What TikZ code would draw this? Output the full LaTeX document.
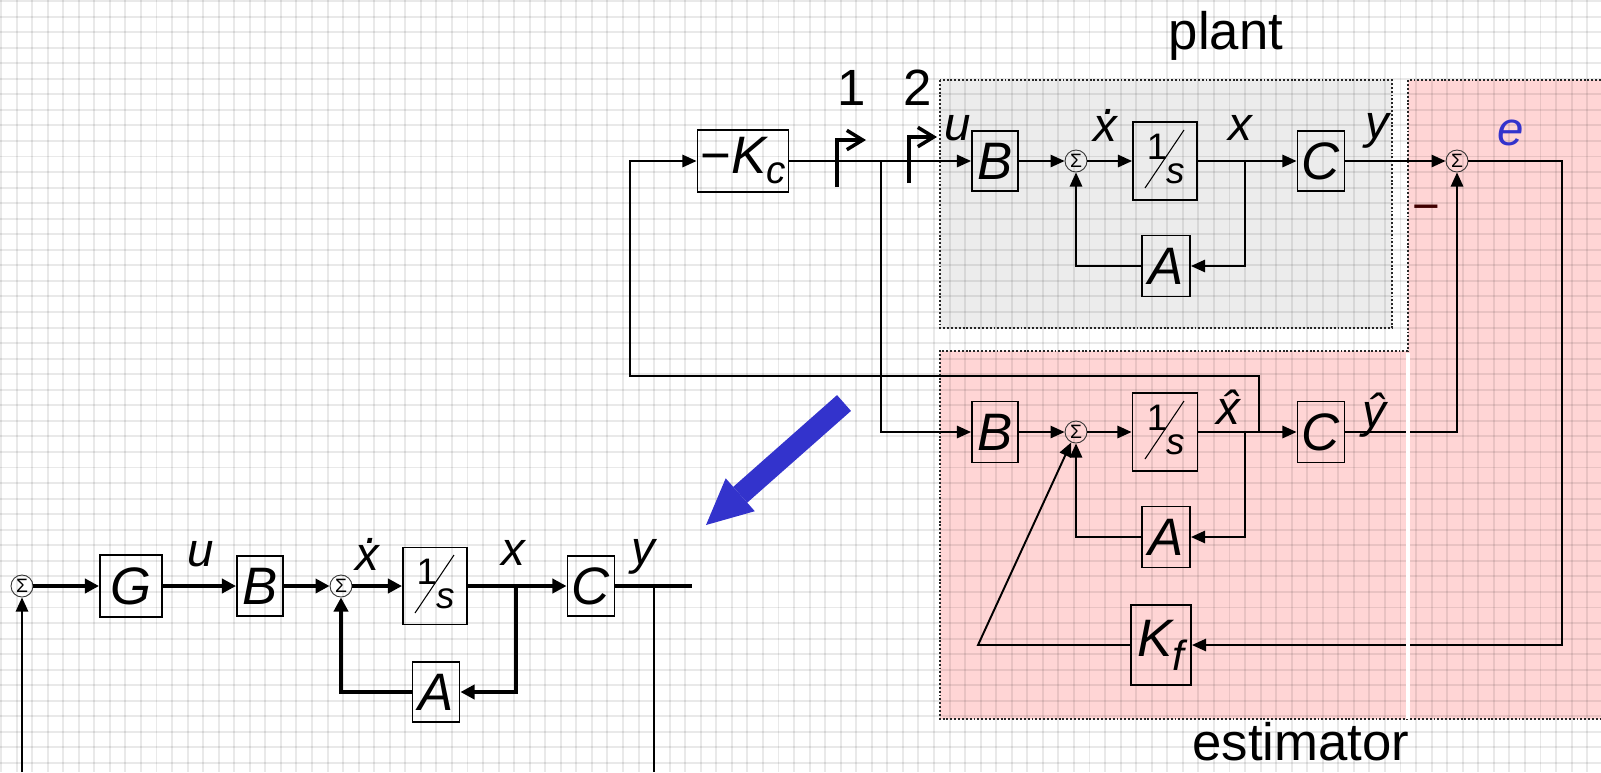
\documentclass[tikz,border=0pt]{standalone}
\usepackage{fontspec}
\setmainfont{Liberation Sans}
\usetikzlibrary{arrows.meta,positioning}

\newlength{\px}
\setlength{\px}{0.02cm}

\definecolor{plantgray}{RGB}{236,236,236}
\definecolor{estpink}{RGB}{255,213,213}
\definecolor{bigblue}{RGB}{51,51,204}
\definecolor{darkerr}{RGB}{64,0,0}

\newcommand{\dotx}{\ooalign{x\cr\hidewidth\kern0.2em\raisebox{0.58em}{.}\hidewidth\cr}}
\newcommand{\hatof}[1]{\ooalign{#1\cr\hidewidth\kern0.12em\symbol{"02C6}\hidewidth\cr}}

\tikzset{
  blk/.style={draw, line width=1.1pt, inner sep=0pt, font=\fontsize{30}{34}\selectfont\itshape},
  sumnode/.style={draw=black!80, circle, line width=0.5pt, minimum size=22\px, inner sep=0pt, font=\fontsize{11}{11}\selectfont},
  wire/.style={line width=1.1pt},
  sig/.style={wire, -{Triangle[length=8pt,width=7pt]}},
  thickwire/.style={line width=2pt},
  thicksig/.style={thickwire, -{Triangle[length=8pt,width=8pt]}},
  lbl/.style={font=\fontsize{27}{30}\selectfont\itshape, inner sep=0pt},
  numlbl/.style={font=\fontsize{29}{32}\selectfont, inner sep=0pt},
  regionlbl/.style={font=\fontsize{30}{33}\selectfont, inner sep=0pt},
  switchpath/.style={line width=2pt, -{Straight Barb[length=9pt,width=11pt]}},
  region/.style={draw=black!85, line width=1.1pt, dash pattern=on 1.1pt off 1.1pt},
  gridline/.style={draw=black, draw opacity=0.085, line width=1.1pt},
  bigarrow/.style={bigblue, line width=12pt, -{Triangle[length=26pt,width=25pt,line width=0pt]}},
  recip/.style={blk, path picture={
      \draw[line width=0.6pt] ([shift={(-20,27)}]path picture bounding box.center) -- ([shift={(19,-31)}]path picture bounding box.center);
      \node[font=\fontsize{21}{21}\selectfont\upshape] at ([shift={(-8,-14)}]path picture bounding box.center) {1};
      \node[font=\fontsize{21}{21}\selectfont\itshape] at ([shift={(11,13)}]path picture bounding box.center) {s};
  }},
}

\begin{document}
\begin{tikzpicture}[x=0.02cm, y=-0.02cm]

\fill[white] (0,0) rectangle (1601,772);
\useasboundingbox (0,0) rectangle (1601,772);

\fill[plantgray] (940,80) rectangle (1392,328);
\fill[estpink] (1408,80) -- (1601,80) -- (1601,719) -- (940,719) -- (940,351) -- (1408,351) -- cycle;

\foreach \i in {0,...,103}
  \draw[gridline] (1+15.55*\i,0) -- (1+15.55*\i,772);
\foreach \j in {0,...,49}
  \draw[gridline] (0,1+15.55*\j) -- (1601,1+15.55*\j);

\draw[region] (940,80) rectangle (1392,328);
\draw[region] (1601,80) -- (1408,80) -- (1408,351) -- (940,351) -- (940,719) -- (1601,719);

\node[regionlbl] (plantlbl) at (1226,36) {plant};
\node[regionlbl] (estlbl) at (1301,742) {estimator};

% plant and controller
\node[blk, minimum width=91\px, minimum height=62\px] (Kc) at (743,161) {{\upshape\symbol{"2212}}K\raisebox{-10\px}{\fontsize{22}{22}\selectfont c}};
\node[blk, minimum width=46\px, minimum height=60\px] (Bp) at (995,161) {B};
\node[sumnode] (sumP) at (1076,161) {\symbol{"03A3}};
\node[recip, minimum width=64\px, minimum height=78\px] (intP) at (1165,161) {};
\node[blk, minimum width=48\px, minimum height=61\px] (Ap) at (1166,266) {A};
\node[blk, minimum width=47\px, minimum height=60\px] (Cp) at (1321,161) {C};
\node[sumnode] (sumE) at (1457,161) {\symbol{"03A3}};

\coordinate (sw1) at (837,161);
\coordinate (sw2) at (909,161);
\coordinate (uBr) at (881,161);
\coordinate (xBr) at (1245,161);

\node[numlbl] (one) at (852,88) {1};
\node[numlbl] (two) at (918,88) {2};
\node[lbl] (uP) at (958,128) {u};
\node[lbl] (xdP) at (1105,129) {\dotx};
\node[lbl] (xP) at (1240,128) {x};
\node[lbl] (yP) at (1377,131) {y};
\node[lbl, text=bigblue] (eLbl) at (1511,133) {e};
\node[lbl, text=darkerr] (minus) at (1426,214) {{\upshape\symbol{"2212}}};

\draw[switchpath] (sw1) ++(0,26) -- ++(0,-47) -- ++(29,0);
\draw[switchpath] (sw2) ++(0,22) -- ++(0,-46) -- ++(28,0);

\draw[sig] (Kc.east) -- (Bp.west);
\draw[sig] (Bp.east) -- (sumP.west);
\draw[sig] (sumP.east) -- (intP.west);
\draw[sig] (intP.east) -- (Cp.west);
\draw[sig] (xBr) |- (Ap.east);
\draw[sig] (Ap.west) -| (sumP.south);
\draw[sig] (Cp.east) -- (sumE.west);

% estimator
\node[blk, minimum width=46\px, minimum height=61\px] (Be) at (995,432) {B};
\node[sumnode] (sumX) at (1076,432) {\symbol{"03A3}};
\node[recip, minimum width=65\px, minimum height=78\px] (intE) at (1165,432) {};
\node[blk, minimum width=48\px, minimum height=61\px] (Ae) at (1166,537) {A};
\node[blk, minimum width=47\px, minimum height=61\px] (Ce) at (1321,432) {C};
\node[blk, minimum width=60\px, minimum height=80\px] (Kf) at (1161,645) {K\raisebox{-14\px}{\fontsize{24}{24}\selectfont f}};

\coordinate (xhBr) at (1245,432);
\coordinate (xhUp) at (1259,432);
\coordinate (fbTop) at (630,376);
\coordinate (eTurn) at (1562,645);
\coordinate (kfTurn) at (978,645);

\node[lbl] (xhE) at (1228,412) {\hatof{x}};
\node[lbl] (yhE) at (1374,415) {\hatof{y}};

\draw[sig] (uBr) |- (Be.west);
\draw[sig] (Be.east) -- (sumX.west);
\draw[sig] (sumX.east) -- (intE.west);
\draw[sig] (intE.east) -- (Ce.west);
\draw[sig] (xhBr) |- (Ae.east);
\draw[sig] (Ae.west) -| (sumX.south);
\draw[sig] (Ce.east) -| (sumE.south);
\draw[sig] (sumE.east) -| (eTurn) -- (Kf.east);
\draw[sig] (Kf.west) -- (kfTurn) -- (sumX);
\draw[sig] (xhUp) |- (fbTop) |- (Kc.west);

\draw[white, line width=1.8pt] (1408,353) -- (1408,719);

% reduced loop
\node[sumnode] (sumR) at (22,586) {\symbol{"03A3}};
\node[blk, minimum width=62\px, minimum height=62\px] (G) at (131,586) {G};
\node[blk, minimum width=46\px, minimum height=60\px] (Br) at (260,586) {B};
\node[sumnode] (sumQ) at (341,586) {\symbol{"03A3}};
\node[recip, minimum width=64\px, minimum height=77\px] (intR) at (435,586) {};
\node[blk, minimum width=47\px, minimum height=60\px] (Ar) at (436,692) {A};
\node[blk, minimum width=47\px, minimum height=60\px] (Cr) at (591,586) {C};

\coordinate (xrBr) at (516,586);
\coordinate (yrBr) at (654,586);
\coordinate (yrEnd) at (692,586);
\coordinate (yrDown) at (654,772);
\coordinate (rIn) at (22,772);

\node[lbl] (uR) at (201,554) {u};
\node[lbl] (xdR) at (367,558) {\dotx};
\node[lbl] (xR) at (513,553) {x};
\node[lbl] (yR) at (643,557) {y};

\draw[thicksig] (sumR.east) -- (G.west);
\draw[thicksig] (G.east) -- (Br.west);
\draw[thicksig] (Br.east) -- (sumQ.west);
\draw[thicksig] (sumQ.east) -- (intR.west);
\draw[thicksig] (intR.east) -- (Cr.west);
\draw[thicksig] (xrBr) |- (Ar.east);
\draw[thicksig] (Ar.west) -| (sumQ.south);
\draw[thickwire] (Cr.east) -- (yrEnd);
\draw[wire] (yrBr) -- (yrDown);
\draw[sig] (rIn) -- (sumR.south);

\coordinate (bigFrom) at (844,403);
\coordinate (bigTo) at (706,525);
\draw[bigarrow] (bigFrom) -- (bigTo);

\end{tikzpicture}
\end{document}
